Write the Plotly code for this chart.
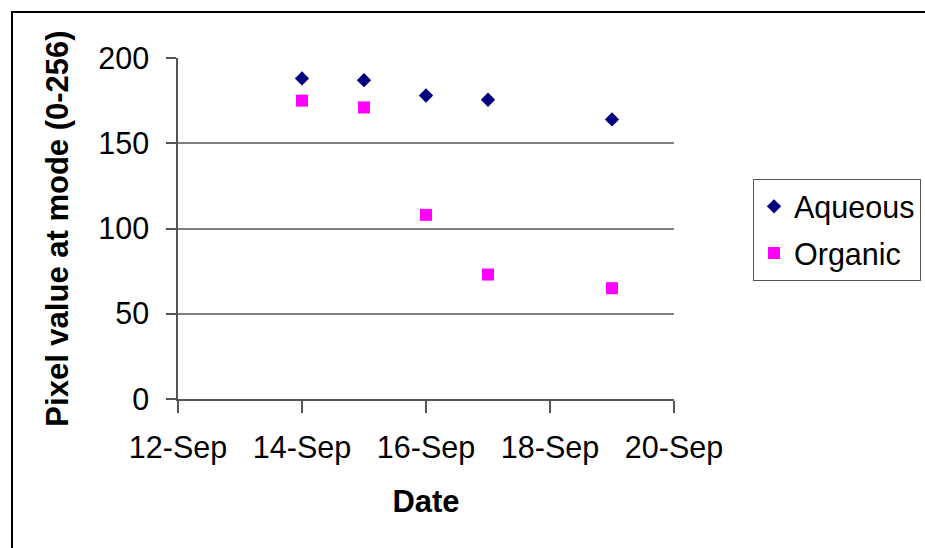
import plotly.graph_objects as go

# Sampling dates and mode pixel values for each phase
dates = ["2007-09-14", "2007-09-15", "2007-09-16", "2007-09-17", "2007-09-19"]
aqueous = [188, 187, 178, 175.5, 164]
organic = [175, 171, 108, 73, 65]

x_range = ["2007-09-12", "2007-09-20"]
y_ticks = [0, 50, 100, 150, 200]

W, H = 925, 548
L, R, T, B = 178, 251, 58, 149
pw, ph = W - L - R, H - T - B

def px_x(p):
    return (p - L) / pw

def px_y(p):
    return (H - B - p) / ph

FONT = "Liberation Sans, Arial, sans-serif"
FS = 30.5

fig = go.Figure()
fig.add_trace(go.Scatter(
    x=dates, y=aqueous, mode="markers", name="Aqueous", legendgroup="a",
    marker=dict(symbol="diamond", size=11, color="#000080",
                line=dict(width=0)),
))
fig.add_trace(go.Scatter(
    x=dates, y=organic, mode="markers", name="Organic", legendgroup="o",
    marker=dict(symbol="square", size=12, color="#FF00FF",
                line=dict(width=0)),
))

fig.update_layout(
    width=W, height=H,
    margin=dict(l=L, r=R, t=T, b=B, autoexpand=False),
    paper_bgcolor="white", plot_bgcolor="white",
    font=dict(family=FONT, size=FS, color="black"),
    showlegend=True,
    legend=dict(
        x=px_x(753), y=px_y(179), xanchor="left", yanchor="top",
        bordercolor="#555555", borderwidth=1, bgcolor="white",
        font=dict(family=FONT, size=FS, color="black"),
        traceorder="grouped", tracegroupgap=4,
        itemsizing="trace",
    ),
    xaxis=dict(
        type="date", range=x_range, dtick=2 * 86400000,
        tick0="2007-09-12", tickformat="%d-%b",
        showgrid=False, zeroline=False,
        showline=True, linecolor="#555555", linewidth=1.5,
        ticks="outside", ticklen=12, tickcolor="#555555", tickwidth=1.5,
        ticklabelstandoff=9,
        tickfont=dict(size=FS),
        title=dict(text="<b>Date</b>", font=dict(size=31), standoff=26),
    ),
    yaxis=dict(
        range=[0, 200], tickvals=y_ticks,
        showgrid=True, gridcolor="#808080", gridwidth=1.5,
        zeroline=False,
        showline=True, linecolor="#555555", linewidth=1.5,
        ticks="outside", ticklen=10, tickcolor="#555555", tickwidth=1.5,
        ticklabelstandoff=11,
        tickfont=dict(size=FS),
        title=dict(text="<b>Pixel value at mode (0-256)</b>",
                   font=dict(size=31), standoff=20),
    ),
)

# Outer chart frame
fig.add_shape(
    type="rect", xref="paper", yref="paper",
    x0=px_x(12), y0=px_y(600), x1=px_x(980), y1=px_y(12),
    line=dict(color="black", width=2), fillcolor="rgba(0,0,0,0)",
    layer="below",
)

fig.write_html("out.html")
